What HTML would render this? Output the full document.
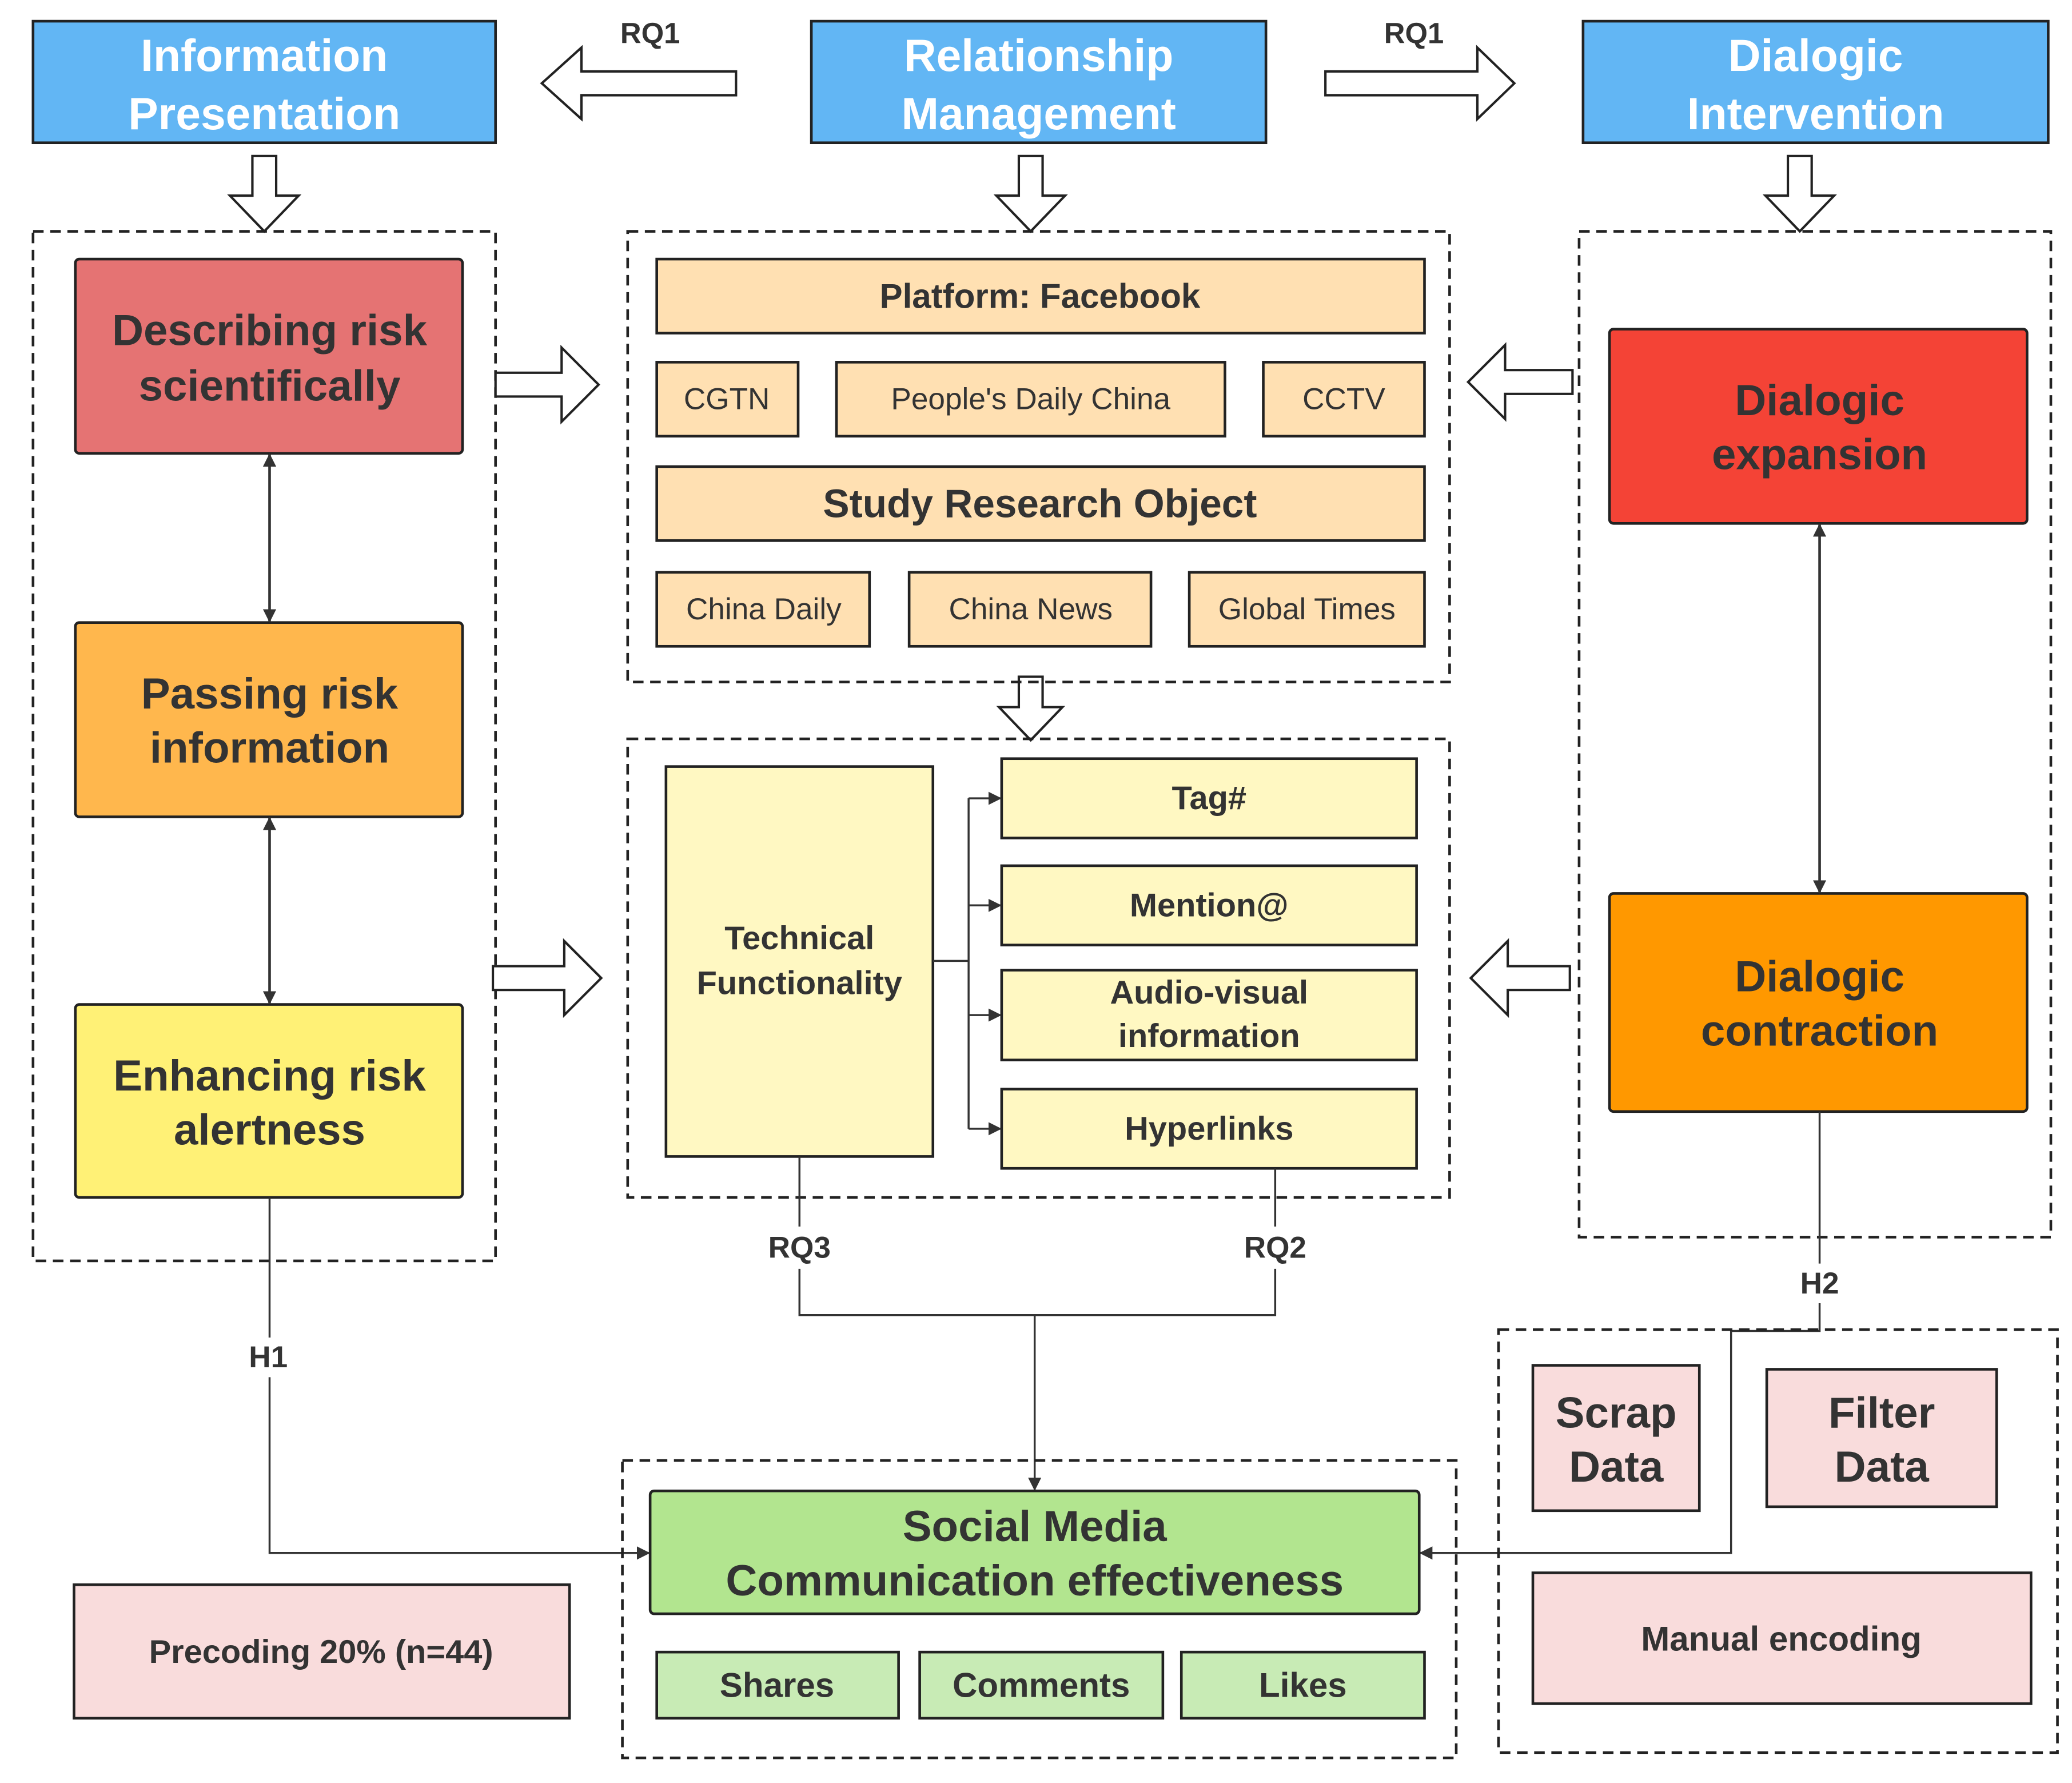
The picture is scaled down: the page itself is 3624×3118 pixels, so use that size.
<!DOCTYPE html>
<html><head><meta charset="utf-8"><style>
html,body{margin:0;padding:0;background:#fff}
svg{display:block}
text{font-family:"Liberation Sans",sans-serif;font-weight:bold;fill:#333;text-anchor:middle;dominant-baseline:central}
.w{fill:#fff}
.n{font-weight:normal}
.d{fill:none;stroke:#222;stroke-width:2;stroke-dasharray:8,5}
.b{stroke:#222;stroke-width:2}
.ha{fill:#fff;stroke:#222;stroke-width:1.8}
.l{fill:none;stroke:#333;stroke-width:1.5}
</style></head><body>
<svg width="3624" height="3118" viewBox="0 0 1568 1349" xmlns="http://www.w3.org/2000/svg">
<defs><marker id="a" markerWidth="10" markerHeight="10" refX="9" refY="5" orient="auto-start-reverse" markerUnits="userSpaceOnUse"><path d="M0,0 L10,5 L0,10 z" fill="#333"/></marker></defs>
<rect width="1568" height="1349" fill="#fff"/>
<!-- top boxes -->
<rect x="25" y="16" width="350" height="92" fill="#62b6f4" class="b"/>
<text x="200" y="42" class="w" font-size="34">Information</text><text x="200" y="86" class="w" font-size="34">Presentation</text>
<rect x="614" y="16" width="344" height="92" fill="#62b6f4" class="b"/>
<text x="786" y="42" class="w" font-size="34">Relationship</text><text x="786" y="86" class="w" font-size="34">Management</text>
<rect x="1198" y="16" width="352" height="92" fill="#62b6f4" class="b"/>
<text x="1374" y="42" class="w" font-size="34">Dialogic</text><text x="1374" y="86" class="w" font-size="34">Intervention</text>
<!-- horizontal hollow arrows -->
<path class="ha" d="M557,54 L440,54 L440,36 L410,63 L440,90 L440,72 L557,72 z"/>
<text x="492" y="25" font-size="22">RQ1</text>
<path class="ha" d="M1003,54 L1118,54 L1118,36 L1146,63 L1118,90 L1118,72 L1003,72 z"/>
<text x="1070" y="25" font-size="22">RQ1</text>
<!-- down arrows -->
<path class="ha" d="M191,118 L209,118 L209,148 L226,148 L200,175 L174,148 L191,148 z"/>
<path class="ha" d="M771,118 L789,118 L789,148 L806,148 L780,175 L754,148 L771,148 z"/>
<path class="ha" d="M1353,118 L1371,118 L1371,148 L1388,148 L1362,175 L1336,148 L1353,148 z"/>
<path class="ha" d="M771,512 L789,512 L789,535 L804,535 L780,560 L756,535 L771,535 z"/>
<!-- left panel -->
<rect x="25" y="175" width="350" height="779" class="d"/>
<rect x="57" y="196" width="293" height="147" rx="3" fill="#e57373" class="b"/>
<text x="204" y="250" font-size="33">Describing risk</text><text x="204" y="292" font-size="33">scientifically</text>
<rect x="57" y="471" width="293" height="147" rx="3" fill="#ffb74d" class="b"/>
<text x="204" y="525" font-size="33">Passing risk</text><text x="204" y="566" font-size="33">information</text>
<rect x="57" y="760" width="293" height="146" rx="3" fill="#fff176" class="b"/>
<text x="204" y="814" font-size="33">Enhancing risk</text><text x="204" y="855" font-size="33">alertness</text>
<line x1="204" y1="344" x2="204" y2="470" stroke="#333" stroke-width="2" marker-start="url(#a)" marker-end="url(#a)"/>
<line x1="204" y1="619" x2="204" y2="759" stroke="#333" stroke-width="2" marker-start="url(#a)" marker-end="url(#a)"/>
<!-- side arrows -->
<path class="ha" d="M375,282 L425,282 L425,263 L453,291 L425,319 L425,300 L375,300 z"/>
<path class="ha" d="M373,731 L427,731 L427,712 L455,740 L427,768 L427,749 L373,749 z"/>
<path class="ha" d="M1190,280 L1139,280 L1139,261 L1111,289 L1139,317 L1139,298 L1190,298 z"/>
<path class="ha" d="M1188,731 L1141,731 L1141,712 L1113,740 L1141,768 L1141,749 L1188,749 z"/>
<!-- middle panel 1 -->
<rect x="475" y="175" width="622" height="341" class="d"/>
<g fill="#ffe0b2" stroke="#222" stroke-width="2">
<rect x="497" y="196" width="581" height="56"/>
<rect x="497" y="274" width="107" height="56"/><rect x="633" y="274" width="294" height="56"/><rect x="956" y="274" width="122" height="56"/>
<rect x="497" y="353" width="581" height="56"/>
<rect x="497" y="433" width="161" height="56"/><rect x="688" y="433" width="183" height="56"/><rect x="900" y="433" width="178" height="56"/>
</g>
<text x="787" y="224" font-size="26">Platform: Facebook</text>
<text x="550" y="302" font-size="23" class="n">CGTN</text>
<text x="780" y="302" font-size="23" class="n">People's Daily China</text>
<text x="1017" y="302" font-size="23" class="n">CCTV</text>
<text x="787" y="381" font-size="30">Study Research Object</text>
<text x="578" y="461" font-size="23" class="n">China Daily</text>
<text x="780" y="461" font-size="23" class="n">China News</text>
<text x="989" y="461" font-size="23" class="n">Global Times</text>
<!-- middle panel 2 -->
<rect x="475" y="559" width="622" height="347" class="d"/>
<g fill="#fff8c2" stroke="#222" stroke-width="2">
<rect x="504" y="580" width="202" height="295"/>
<rect x="758" y="574" width="314" height="60"/><rect x="758" y="655" width="314" height="60"/>
<rect x="758" y="734" width="314" height="68"/><rect x="758" y="824" width="314" height="60"/>
</g>
<text x="605" y="710" font-size="25">Technical</text><text x="605" y="744" font-size="25">Functionality</text>
<text x="915" y="604" font-size="25">Tag#</text>
<text x="915" y="685" font-size="25">Mention@</text>
<text x="915" y="751" font-size="25">Audio-visual</text><text x="915" y="784" font-size="25">information</text>
<text x="915" y="854" font-size="25">Hyperlinks</text>
<path class="l" d="M706,727 L733,727 M733,604 L733,854"/>
<line x1="733" y1="604" x2="757" y2="604" class="l" marker-end="url(#a)"/>
<line x1="733" y1="685" x2="757" y2="685" class="l" marker-end="url(#a)"/>
<line x1="733" y1="768" x2="757" y2="768" class="l" marker-end="url(#a)"/>
<line x1="733" y1="854" x2="757" y2="854" class="l" marker-end="url(#a)"/>
<path class="l" d="M605,875 L605,928 M605,960 L605,995 L965,995 L965,960 M965,928 L965,884"/>
<text x="605" y="944" font-size="23">RQ3</text><text x="965" y="944" font-size="23">RQ2</text>
<line x1="783" y1="995" x2="783" y2="1127" class="l" marker-end="url(#a)"/>
<!-- right panel -->
<rect x="1195" y="175" width="357" height="761" class="d"/>
<rect x="1218" y="249" width="316" height="147" rx="3" fill="#f44336" class="b"/>
<text x="1377" y="303" font-size="33">Dialogic</text><text x="1377" y="344" font-size="33">expansion</text>
<rect x="1218" y="676" width="316" height="165" rx="3" fill="#ff9800" class="b"/>
<text x="1377" y="739" font-size="33">Dialogic</text><text x="1377" y="780" font-size="33">contraction</text>
<line x1="1377" y1="397" x2="1377" y2="675" stroke="#333" stroke-width="2" marker-start="url(#a)" marker-end="url(#a)"/>
<!-- H1 -->
<path class="l" d="M204,906 L204,1012 M204,1042 L204,1175 L490,1175"/>
<line x1="480" y1="1175" x2="491" y2="1175" class="l" marker-end="url(#a)"/>
<text x="203" y="1027" font-size="23">H1</text>
<!-- H2 -->
<path class="l" d="M1377,841 L1377,956 M1377,986 L1377,1007 L1310,1007 L1310,1175 L1085,1175"/>
<line x1="1090" y1="1175" x2="1075" y2="1175" class="l" marker-end="url(#a)"/>
<text x="1377" y="971" font-size="23">H2</text>
<!-- bottom middle -->
<rect x="471" y="1105" width="631" height="225" class="d"/>
<rect x="492" y="1128" width="582" height="93" rx="3" fill="#b2e58f" class="b"/>
<text x="783" y="1155" font-size="33">Social Media</text><text x="783" y="1196" font-size="33">Communication effectiveness</text>
<g fill="#c8ebb5" stroke="#222" stroke-width="2">
<rect x="497" y="1250" width="183" height="50"/><rect x="696" y="1250" width="184" height="50"/><rect x="894" y="1250" width="184" height="50"/>
</g>
<text x="588" y="1275" font-size="26">Shares</text><text x="788" y="1275" font-size="26">Comments</text><text x="986" y="1275" font-size="26">Likes</text>
<rect x="56" y="1199" width="375" height="101" fill="#f9dcdc" class="b"/>
<text x="243" y="1250" font-size="25">Precoding 20% (n=44)</text>
<!-- bottom right -->
<rect x="1134" y="1006" width="423" height="320" class="d"/>
<g fill="#f9dcdc" stroke="#222" stroke-width="2">
<rect x="1160" y="1033" width="126" height="110"/><rect x="1337" y="1036" width="174" height="104"/><rect x="1160" y="1190" width="377" height="99"/>
</g>
<text x="1223" y="1069" font-size="33">Scrap</text><text x="1223" y="1110" font-size="33">Data</text>
<text x="1424" y="1069" font-size="33">Filter</text><text x="1424" y="1110" font-size="33">Data</text>
<text x="1348" y="1240" font-size="26">Manual encoding</text>
</svg>
</body></html>
